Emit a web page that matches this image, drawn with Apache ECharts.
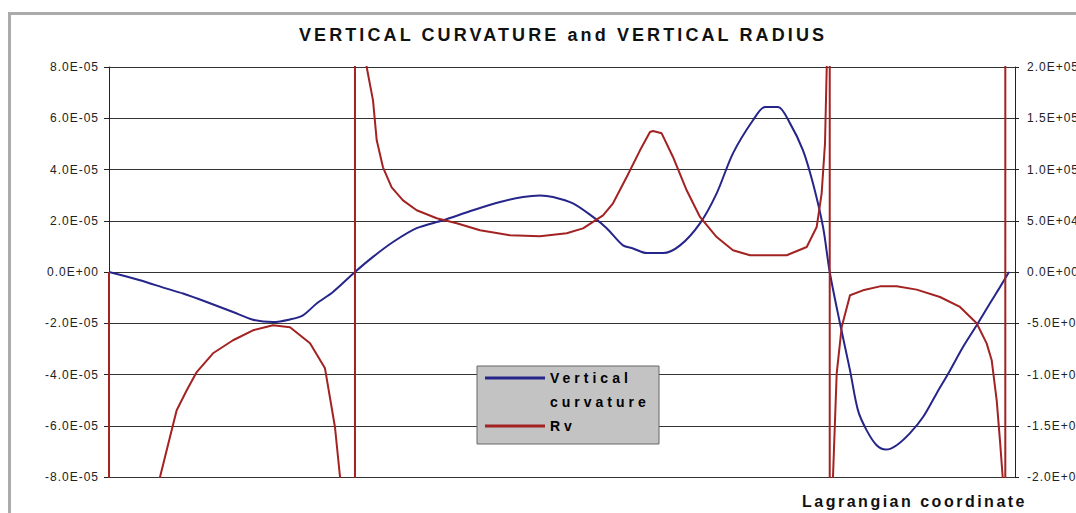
<!DOCTYPE html>
<html>
<head>
<meta charset="utf-8">
<script src="https://cdn.jsdelivr.net/npm/echarts@6.0.0/dist/echarts.min.js"></script>
<style>
  html, body { margin: 0; padding: 0; background: #ffffff; }
  #chart { width: 1076px; height: 513px; }
  #chart text { letter-spacing: 1px; }
  #chart text[style*="18px"] { letter-spacing: 3.1px; }
  #chart text[style*="16px"] { letter-spacing: 2.5px; }
  #chart text[style*="14px"] { letter-spacing: 4px; }
</style>
</head>
<body>
<div id="chart"></div>
<script>
// ---- data ----
const titleText = 'VERTICAL CURVATURE and VERTICAL RADIUS';
const xName = 'Lagrangian coordinate';
const seriesNames = ['Vertical curvature', 'Rv'];

// Vertical curvature (units of 1e-5)
const CURV_UNIT = 1e-5;
const curvX = [0, 3.42, 6.37, 8.17, 10.78, 13.69, 15.89, 18.10, 19.98, 21.41, 22.92, 24.72, 27.15,
  29.14, 31.35, 33.96, 36.87, 40.18, 43.16, 45.70, 47.57, 49.01, 51.21, 53.42, 54.93, 56.73, 57.84,
  59.35, 61.15, 63.03, 65.23, 67.07, 68.87, 71.08, 72.41, 73.84, 75.17, 76.60, 77.70, 78.81, 79.55,
  80.68, 81.79, 82.67, 83.63, 84.73, 85.76, 86.94, 88.41, 89.85, 91.36, 92.83, 94.26, 95.77, 97.24,
  98.34, 99.34];
const curvY = [0, -0.32, -0.65, -0.84, -1.17, -1.56, -1.86, -1.95, -1.85, -1.69, -1.23, -0.78, 0,
  0.59, 1.17, 1.71, 2.02, 2.41, 2.73, 2.93, 2.99, 2.93, 2.68, 2.15, 1.71, 1.04, 0.92,
  0.74, 0.74, 1.04, 1.90, 3.07, 4.63, 5.92, 6.44, 6.44, 5.80, 4.75, 3.46, 1.76, 0,
  -2.00, -3.84, -5.40, -6.18, -6.76, -6.93, -6.76, -6.29, -5.66, -4.73, -3.84, -2.93, -2.08, -1.22,
  -0.59, 0];

// Vertical radius Rv (units of 1e4); +-2000 marks the jumps where the curvature crosses zero
const RV_UNIT = 1e4;
const rvX = [0, 0.5, 3.42, 5.63, 6.73, 7.47, 8.58, 9.68, 11.48, 13.69, 15.89, 18.10, 19.98, 22.19,
  23.84, 24.94, 25.50, 27.15, 27.15, 28.44, 29.14, 29.55, 30.24, 31.20, 32.45, 33.96, 36.17, 38.38,
  40.95, 44.26, 47.57, 50.52, 52.32, 54.53, 55.63, 57.14, 58.61, 59.71, 60.04, 61.00, 62.25, 63.76,
  65.23, 67.07, 68.87, 70.75, 74.80, 77.01, 78.11, 78.66, 79.03, 79.22, 79.55, 79.55, 79.91, 80.32,
  80.87, 81.79, 83.22, 85.10, 86.94, 89.15, 91.72, 93.93, 95.77, 96.87, 97.43, 97.98, 98.34, 98.64,
  98.93, 98.93];
const rvY = [0, -2000, -31, -20.0, -16.10, -13.49, -11.54, -9.76, -7.93, -6.66, -5.69, -5.20, -5.39, -6.96,
  -9.40, -15.12, -20.0, -2000, 2000, 20.0, 16.75, 12.85, 10.21, 8.26, 6.99, 6.02, 5.24, 4.75,
  4.07, 3.58, 3.48, 3.78, 4.26, 5.53, 6.70, 9.27, 11.87, 13.66, 13.76, 13.53, 11.22, 7.97,
  5.37, 3.41, 2.12, 1.63, 1.63, 2.44, 4.39, 7.68, 12.56, 20.0, 2000, -2000, -20.0, -9.88,
  -5.37, -2.27, -1.79, -1.40, -1.40, -1.72, -2.44, -3.41, -5.00, -6.96, -8.61, -12.52, -16.42, -20.0,
  -2000, 2000];

// axis ranges
const leftMin = -8e-5, leftMax = 8e-5, leftStep = 2e-5;
const rightMin = -2e5, rightMax = 2e5, rightStep = 5e4;

// ---- helpers ----
function sci(v) {
  if (Math.abs(v) < 1e-30) return '0.0E+00';
  const s = v.toExponential(1).split('e');
  const e = parseInt(s[1], 10);
  const ab = Math.abs(e);
  return s[0] + 'E' + (e < 0 ? '-' : '+') + (ab < 10 ? '0' + ab : '' + ab);
}

const curvData = curvX.map((x, i) => [x, curvY[i] * CURV_UNIT]);
const rvData = rvX.map((x, i) => [x, rvY[i] * RV_UNIT]);

const FONT = "'Liberation Sans', Arial, sans-serif";
const chart = echarts.init(document.getElementById('chart'), null, { renderer: 'svg' });

chart.setOption({
  animation: false,
  backgroundColor: '#ffffff',
  title: {
    text: titleText,
    left: 563,
    top: 26,
    textAlign: 'center',
    padding: 0,
    textStyle: { fontFamily: FONT, fontSize: 18, fontWeight: 'bold', color: '#111' }
  },
  graphic: [
    { type: 'rect', z: 0, silent: true,
      shape: { x: 9.5, y: 13.5, width: 1200, height: 700 },
      style: { fill: 'none', stroke: '#ababab', lineWidth: 3 } },
    { type: 'rect', z: 3, silent: true,
      shape: { x: 477, y: 366, width: 182, height: 78 },
      style: { fill: '#c3c3c3', stroke: '#666666', lineWidth: 1 } }
  ],
  legend: {
    orient: 'vertical',
    left: 485,
    top: 342,
    padding: 0,
    itemGap: 0,
    itemWidth: 60,
    itemHeight: 3,
    icon: 'rect',
    selectedMode: false,
    z: 4,
    // first item: blank leading line so that "Vertical" sits beside its line sample
    formatter: name => (name.indexOf(' ') > 0 ? '\n' + name.replace(' ', '\n') : name),
    textStyle: { fontFamily: FONT, fontSize: 14, fontWeight: 'bold', color: '#000', lineHeight: 24 },
    data: [seriesNames[0], seriesNames[1]]
  },
  grid: { left: 109, right: 61, top: 67, bottom: 36, containLabel: false, outerBoundsMode: 'none' },
  xAxis: {
    type: 'value',
    min: 0,
    max: 100,
    axisLine: { show: false, onZero: false },
    axisTick: { show: false },
    axisLabel: { show: false },
    splitLine: { show: false },
    name: xName,
    nameLocation: 'end',
    nameGap: 12,
    nameTextStyle: {
      fontFamily: FONT, fontSize: 16, fontWeight: 'bold', color: '#111',
      align: 'right', verticalAlign: 'top', padding: [16, 0, 0, 0]
    }
  },
  yAxis: [
    {
      type: 'value',
      position: 'left',
      min: leftMin, max: leftMax, interval: leftStep,
      axisLine: { show: true, lineStyle: { color: '#222', width: 1 } },
      axisTick: { show: true, length: 5, lineStyle: { color: '#222' } },
      axisLabel: { margin: 10, fontFamily: FONT, fontSize: 12, color: '#222', formatter: sci },
      splitLine: { show: true, lineStyle: { color: '#333', width: 1 } }
    },
    {
      type: 'value',
      position: 'right',
      min: rightMin, max: rightMax, interval: rightStep,
      axisLine: { show: true, lineStyle: { color: '#222', width: 1 } },
      axisTick: { show: true, length: 4, lineStyle: { color: '#222' } },
      axisLabel: { margin: 12, fontFamily: FONT, fontSize: 12, color: '#222', formatter: sci },
      splitLine: { show: false }
    }
  ],
  series: [
    {
      name: seriesNames[0],
      type: 'line',
      yAxisIndex: 0,
      data: curvData,
      showSymbol: false,
      symbol: 'none',
      smooth: 0.3,
      clip: true,
      z: 2,
      color: '#25258a',
      lineStyle: { color: '#25258a', width: 2 }
    },
    {
      name: seriesNames[1],
      type: 'line',
      yAxisIndex: 1,
      data: rvData,
      showSymbol: false,
      symbol: 'none',
      clip: true,
      z: 2,
      color: '#a32222',
      lineStyle: { color: '#a32222', width: 2 }
    }
  ]
});
</script>
</body>
</html>
